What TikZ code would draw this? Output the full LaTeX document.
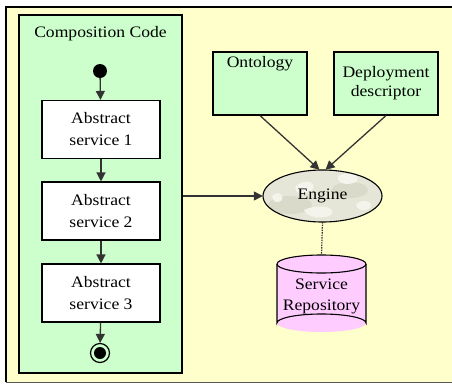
\documentclass[tikz,border=0pt]{standalone}
\usepackage{fontspec}
\setmainfont[FakeStretch=1.1]{Liberation Serif}
\usetikzlibrary{arrows.meta,shapes.geometric}
\definecolor{canvas}{HTML}{FFFFCC}
\definecolor{mint}{HTML}{CCFFCC}
\definecolor{pinkish}{HTML}{FFCCFF}
\definecolor{engfill}{HTML}{E6E6D8}
\definecolor{englight}{HTML}{F4F4EC}
\definecolor{engdark}{HTML}{DADACA}
\definecolor{linegray}{HTML}{333333}
\begin{document}
\begin{tikzpicture}[x=1pt,y=-1pt,
  txt/.style={font=\fontsize{16}{22}\selectfont, align=center, inner sep=0pt},
  whitebox/.style={draw=black, line width=1.1pt, fill=white, minimum width=118pt, minimum height=58pt, txt},
  greenbox/.style={draw=black, line width=1.1pt, fill=mint},
  flow/.style={draw=linegray, line width=1.3pt, -{Triangle[length=9pt,width=9pt]}}
]
\useasboundingbox (0,0) rectangle (452,383);
% background frame
\fill[canvas] (6,7) rectangle (452,382);
\draw[black, line width=1.2pt] (6,382) -- (6,7) -- (452,7);
\draw[gray!70!black, line width=1pt] (6,382) -- (452,382);

% composition code panel
\node[greenbox, minimum width=163pt, minimum height=358pt] (panel) at (100.5,194) {};
\node[txt, anchor=north] (ptitle) at (100.5,26) {Composition Code};

% start and end markers
\node[circle, fill=black, inner sep=0pt, minimum size=14pt] (start) at (100,71) {};
\node[circle, draw=black, line width=1.2pt, fill=mint, inner sep=0pt, minimum size=19pt] (finish) at (100,353) {};
\node[circle, fill=black, inner sep=0pt, minimum size=12pt] (finishdot) at (100,353) {};

% abstract services
\node[whitebox] (s1) at (101,129.5) {Abstract\\service 1};
\node[whitebox] (s2) at (101,211) {Abstract\\service 2};
\node[whitebox] (s3) at (101,293) {Abstract\\service 3};

\draw[flow] (start) -- (s1);
\draw[flow] (s1) -- (s2);
\draw[flow] (s2) -- (s3);
\draw[flow] (s3) -- (finish);

% inputs
\node[greenbox, minimum width=94pt, minimum height=63pt,
  label={[txt, anchor=north, yshift=-5pt]north:Ontology}] (onto) at (260,83.5) {};
\node[greenbox, minimum width=104pt, minimum height=63pt, txt,
  font=\fontsize{16}{19}\selectfont] (deploy) at (386,83.5) {Deployment\\descriptor};

% engine with a mottled fill
\node[ellipse, minimum width=119pt, minimum height=52pt, inner sep=0pt] (engine) at (322.5,196) {};
\fill[engfill] (engine.center) ellipse[x radius=59.5, y radius=26];
\begin{scope}
  \clip (engine.center) ellipse[x radius=59.5, y radius=26];
  \fill[engdark] (290,205) ellipse[x radius=22, y radius=9];
  \fill[engdark] (350,190) ellipse[x radius=18, y radius=8];
  \fill[englight] (296,186) .. controls (305,178) and (318,182) .. (312,190) .. controls (306,196) and (292,194) .. cycle;
  \fill[englight] (338,176) .. controls (350,170) and (362,176) .. (356,182) .. controls (348,186) and (336,184) .. cycle;
  \fill[englight] (304,210) .. controls (316,204) and (336,206) .. (332,214) .. controls (326,220) and (306,218) .. cycle;
  \fill[englight] (272,196) .. controls (278,190) and (284,194) .. (282,200) .. controls (278,204) and (272,202) .. cycle;
  \fill[englight] (356,204) .. controls (364,198) and (374,202) .. (370,208) .. controls (364,212) and (356,210) .. cycle;
\end{scope}
\draw[black, line width=1.1pt] (engine.center) ellipse[x radius=59.5, y radius=26];
\node[txt] at (engine.center) {Engine};

% service repository cylinder
\coordinate (repotop) at (321.5,255);
\fill[pinkish] (277,264) arc[start angle=180, end angle=360, x radius=44.5, y radius=9]
  -- (366,323) arc[start angle=0, end angle=180, x radius=44.5, y radius=9] -- cycle;
\fill[pinkish] (321.5,264) ellipse[x radius=44.5, y radius=9];
\draw[black, line width=1.1pt] (277,264) -- (277,323) arc[start angle=180, end angle=0, x radius=44.5, y radius=-9] -- (366,264);
\draw[black, line width=1.1pt] (321.5,264) ellipse[x radius=44.5, y radius=9];
\node[txt, font=\fontsize{16}{21}\selectfont] (repo) at (321.5,296) {Service\\Repository};

% connectors
\draw[flow] (panel.east |- engine.west) -- (engine.west);
\draw[flow] (onto.south) -- ([xshift=-3pt]engine.north);
\draw[flow] (deploy.south) -- ([xshift=3pt]engine.north);
\draw[linegray, line width=1.2pt, dash pattern=on 1.5pt off 1pt] (engine.south) -- (repotop);
\end{tikzpicture}
\end{document}
